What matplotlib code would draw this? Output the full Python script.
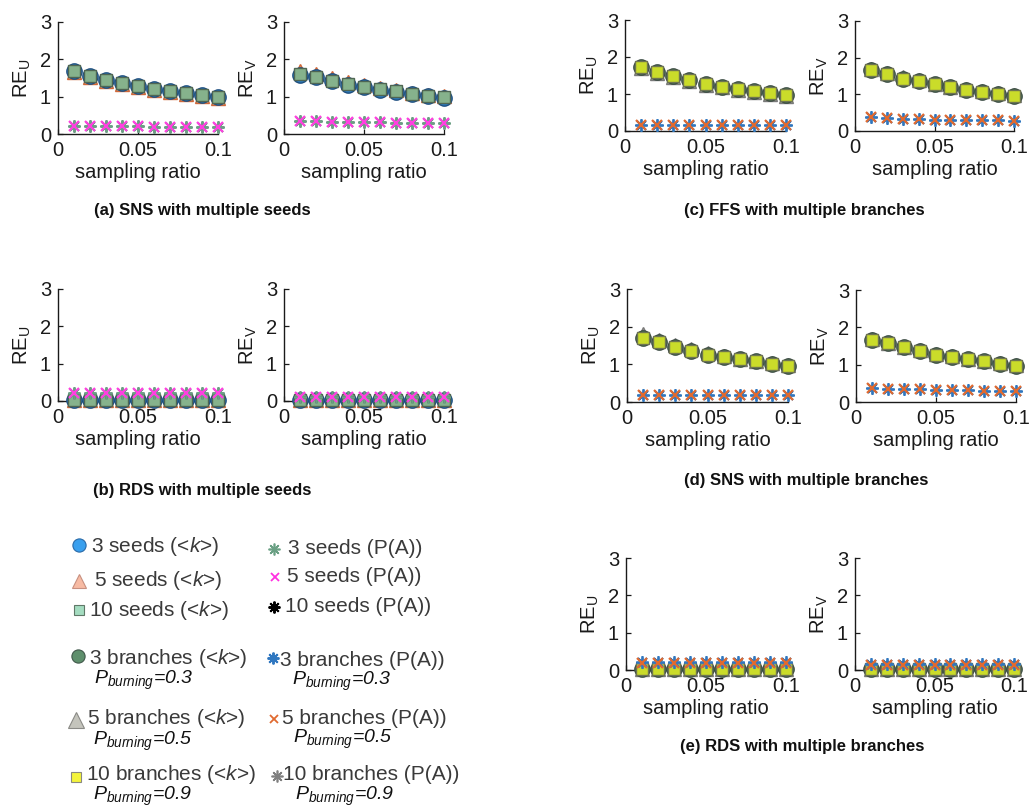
import matplotlib
matplotlib.use('Agg')
import matplotlib.pyplot as plt

plt.rcParams['font.family'] = ['Liberation Sans', 'DejaVu Sans']
plt.rcParams['mathtext.fontset'] = 'custom'
plt.rcParams['mathtext.rm'] = 'Liberation Sans'
plt.rcParams['mathtext.it'] = 'Liberation Sans:italic'
plt.rcParams['mathtext.bf'] = 'Liberation Sans:bold'

# ---------------- data ----------------
x_ratio = [0.01, 0.02, 0.03, 0.04, 0.05, 0.06, 0.07, 0.08, 0.09, 0.10]
x_ticks = [0, 0.05, 0.1]
x_ticklabels = ['0', '0.05', '0.1']
y_ticks = [0, 1, 2, 3]

# (a) SNS with multiple seeds
a_u_k3 = [1.70, 1.56, 1.45, 1.37, 1.29, 1.21, 1.15, 1.09, 1.04, 0.98]
a_u_k5 = [1.66, 1.53, 1.42, 1.35, 1.27, 1.19, 1.13, 1.07, 1.02, 0.96]
a_u_k10 = [1.69, 1.55, 1.45, 1.36, 1.29, 1.21, 1.15, 1.09, 1.04, 0.98]
a_u_p3 = [0.22, 0.21, 0.21, 0.21, 0.21, 0.20, 0.20, 0.20, 0.20, 0.20]
a_u_p5 = [0.22, 0.21, 0.21, 0.21, 0.21, 0.20, 0.20, 0.20, 0.20, 0.20]
a_u_p10 = [0.22, 0.21, 0.21, 0.21, 0.21, 0.20, 0.20, 0.20, 0.20, 0.20]
a_v_k3 = [1.58, 1.52, 1.42, 1.32, 1.26, 1.19, 1.13, 1.08, 1.02, 0.97]
a_v_k5 = [1.70, 1.60, 1.49, 1.39, 1.31, 1.24, 1.17, 1.11, 1.05, 1.01]
a_v_k10 = [1.62, 1.53, 1.43, 1.34, 1.27, 1.20, 1.14, 1.08, 1.03, 0.98]
a_v_p3 = [0.35, 0.34, 0.33, 0.32, 0.32, 0.31, 0.30, 0.30, 0.29, 0.29]
a_v_p5 = [0.35, 0.34, 0.33, 0.32, 0.32, 0.31, 0.30, 0.30, 0.29, 0.29]
a_v_p10 = [0.35, 0.34, 0.33, 0.32, 0.32, 0.31, 0.30, 0.30, 0.29, 0.29]

# (b) RDS with multiple seeds
b_u_k3 = [0.02, 0.02, 0.02, 0.02, 0.02, 0.02, 0.02, 0.02, 0.02, 0.02]
b_u_k5 = [0.03, 0.03, 0.03, 0.03, 0.03, 0.03, 0.03, 0.03, 0.03, 0.03]
b_u_k10 = [0.02, 0.02, 0.02, 0.02, 0.02, 0.02, 0.02, 0.02, 0.02, 0.02]
b_u_p3 = [0.22, 0.22, 0.22, 0.22, 0.22, 0.22, 0.22, 0.22, 0.22, 0.22]
b_u_p5 = [0.22, 0.22, 0.22, 0.22, 0.22, 0.22, 0.22, 0.22, 0.22, 0.22]
b_u_p10 = [0.22, 0.22, 0.22, 0.22, 0.22, 0.22, 0.22, 0.22, 0.22, 0.22]
b_v_k3 = [0.02, 0.02, 0.02, 0.02, 0.02, 0.02, 0.02, 0.02, 0.02, 0.02]
b_v_k5 = [0.03, 0.03, 0.03, 0.03, 0.03, 0.03, 0.03, 0.03, 0.03, 0.03]
b_v_k10 = [0.02, 0.02, 0.02, 0.02, 0.02, 0.02, 0.02, 0.02, 0.02, 0.02]
b_v_p3 = [0.11, 0.11, 0.11, 0.11, 0.11, 0.11, 0.11, 0.11, 0.11, 0.11]
b_v_p5 = [0.11, 0.11, 0.11, 0.11, 0.11, 0.11, 0.11, 0.11, 0.11, 0.11]
b_v_p10 = [0.11, 0.11, 0.11, 0.11, 0.11, 0.11, 0.11, 0.11, 0.11, 0.11]

# (c) FFS with multiple branches
c_u_k3 = [1.72, 1.59, 1.48, 1.37, 1.27, 1.20, 1.13, 1.08, 1.02, 0.96]
c_u_k5 = [1.69, 1.56, 1.45, 1.34, 1.25, 1.18, 1.11, 1.06, 1.00, 0.94]
c_u_k10 = [1.72, 1.59, 1.48, 1.37, 1.27, 1.20, 1.13, 1.08, 1.02, 0.96]
c_u_p3 = [0.16, 0.16, 0.16, 0.16, 0.16, 0.16, 0.16, 0.16, 0.16, 0.16]
c_u_p5 = [0.16, 0.16, 0.16, 0.16, 0.16, 0.16, 0.16, 0.16, 0.16, 0.16]
c_u_p10 = [0.16, 0.16, 0.16, 0.16, 0.16, 0.16, 0.16, 0.16, 0.16, 0.16]
c_v_k3 = [1.66, 1.55, 1.43, 1.36, 1.27, 1.19, 1.13, 1.07, 1.02, 0.96]
c_v_k5 = [1.70, 1.57, 1.46, 1.38, 1.29, 1.21, 1.15, 1.09, 1.04, 0.97]
c_v_k10 = [1.66, 1.55, 1.43, 1.36, 1.27, 1.19, 1.13, 1.07, 1.02, 0.96]
c_v_p3 = [0.37, 0.35, 0.33, 0.33, 0.31, 0.31, 0.30, 0.30, 0.29, 0.28]
c_v_p5 = [0.37, 0.35, 0.33, 0.33, 0.31, 0.31, 0.30, 0.30, 0.29, 0.28]
c_v_p10 = [0.37, 0.35, 0.33, 0.33, 0.31, 0.31, 0.30, 0.30, 0.29, 0.28]

# (d) SNS with multiple branches
d_u_k3 = [1.69, 1.60, 1.45, 1.36, 1.26, 1.20, 1.13, 1.08, 1.02, 0.95]
d_u_k5 = [1.80, 1.65, 1.52, 1.40, 1.30, 1.22, 1.15, 1.10, 1.04, 0.98]
d_u_k10 = [1.69, 1.60, 1.45, 1.36, 1.26, 1.20, 1.13, 1.08, 1.02, 0.95]
d_u_p3 = [0.19, 0.19, 0.19, 0.19, 0.19, 0.19, 0.19, 0.19, 0.19, 0.19]
d_u_p5 = [0.19, 0.19, 0.19, 0.19, 0.19, 0.19, 0.19, 0.19, 0.19, 0.19]
d_u_p10 = [0.19, 0.19, 0.19, 0.19, 0.19, 0.19, 0.19, 0.19, 0.19, 0.19]
d_v_k3 = [1.67, 1.58, 1.46, 1.37, 1.27, 1.21, 1.15, 1.09, 1.03, 0.96]
d_v_k5 = [1.69, 1.59, 1.47, 1.38, 1.29, 1.22, 1.16, 1.10, 1.05, 0.98]
d_v_k10 = [1.67, 1.58, 1.46, 1.37, 1.27, 1.21, 1.15, 1.09, 1.03, 0.96]
d_v_p3 = [0.38, 0.36, 0.34, 0.34, 0.32, 0.31, 0.31, 0.30, 0.29, 0.29]
d_v_p5 = [0.38, 0.36, 0.34, 0.34, 0.32, 0.31, 0.31, 0.30, 0.29, 0.29]
d_v_p10 = [0.38, 0.36, 0.34, 0.34, 0.32, 0.31, 0.31, 0.30, 0.29, 0.29]

# (e) RDS with multiple branches
e_u_k3 = [0.03, 0.03, 0.03, 0.03, 0.03, 0.03, 0.03, 0.03, 0.03, 0.03]
e_u_k5 = [0.04, 0.04, 0.04, 0.04, 0.04, 0.04, 0.04, 0.04, 0.04, 0.04]
e_u_k10 = [0.03, 0.03, 0.03, 0.03, 0.03, 0.03, 0.03, 0.03, 0.03, 0.03]
e_u_p3 = [0.22, 0.22, 0.22, 0.22, 0.22, 0.22, 0.22, 0.22, 0.22, 0.22]
e_u_p5 = [0.20, 0.20, 0.20, 0.20, 0.20, 0.20, 0.20, 0.20, 0.20, 0.20]
e_u_p10 = [0.20, 0.20, 0.20, 0.20, 0.20, 0.20, 0.20, 0.20, 0.20, 0.20]
e_v_k3 = [0.03, 0.03, 0.03, 0.03, 0.03, 0.03, 0.03, 0.03, 0.03, 0.03]
e_v_k5 = [0.04, 0.04, 0.04, 0.04, 0.04, 0.04, 0.04, 0.04, 0.04, 0.04]
e_v_k10 = [0.03, 0.03, 0.03, 0.03, 0.03, 0.03, 0.03, 0.03, 0.03, 0.03]
e_v_p3 = [0.15, 0.15, 0.15, 0.15, 0.15, 0.15, 0.15, 0.15, 0.15, 0.15]
e_v_p5 = [0.14, 0.14, 0.14, 0.14, 0.14, 0.14, 0.14, 0.14, 0.14, 0.14]
e_v_p10 = [0.14, 0.14, 0.14, 0.14, 0.14, 0.14, 0.14, 0.14, 0.14, 0.14]

panel_titles = ['(a) SNS with multiple seeds', '(b) RDS with multiple seeds',
                '(c) FFS with multiple branches', '(d) SNS with multiple branches',
                '(e) RDS with multiple branches']
x_label = 'sampling ratio'
y_label_u = r'RE$_{\mathrm{U}}$'
y_label_v = r'RE$_{\mathrm{V}}$'

legend_seed_k = ['3 seeds (<$k$>)', '5 seeds (<$k$>)', '10 seeds (<$k$>)']
legend_seed_p = ['3 seeds (P(A))', '5 seeds (P(A))', '10 seeds (P(A))']
legend_branch_k = ['3 branches (<$k$>)', '5 branches (<$k$>)', '10 branches (<$k$>)']
legend_branch_p = ['3 branches (P(A))', '5 branches (P(A))', '10 branches (P(A))']
legend_burning = [r'$P_{burning}$=0.3', r'$P_{burning}$=0.5', r'$P_{burning}$=0.9']

# ---------------- styles ----------------
AST = (8, 2, 0)
seed_k_styles = [  # order: 3, 5, 10
    dict(marker='o', ms=11, mfc='#2a7cc0', mec='#1d4e80', mew=1.0),
    dict(marker='^', ms=10, mfc='#e4a07c', mec='#d0683a', mew=1.0),
    dict(marker='s', ms=8, mfc='#86b28c', mec='#4f6653', mew=1.0),
]
seed_p_styles = [
    dict(marker=AST, ms=9, mec='#6aa084', mew=1.3),
    dict(marker='x', ms=6.5, mec='#ff40e0', mew=1.6),
    dict(marker=AST, ms=8, mec='#000000', mew=1.0),
]
branch_k_styles = [
    dict(marker='o', ms=11, mfc='#4f7f60', mec='#3a4a42', mew=1.0),
    dict(marker='^', ms=10, mfc='#a3a39b', mec='#7a7a7a', mew=1.0),
    dict(marker='s', ms=8, mfc='#cadc2a', mec='#6e7450', mew=1.0),
]
branch_p_styles = [
    dict(marker=AST, ms=9, mec='#2f77c0', mew=1.3),
    dict(marker='x', ms=6.5, mec='#e06a30', mew=1.6),
    dict(marker=AST, ms=8, mec='#888888', mew=1.0),
]

W, H = 1032, 807
fig = plt.figure(figsize=(W / 100, H / 100), dpi=100)


def box(x0, x1, yt, yb):
    return [x0 / W, 1 - yb / H, (x1 - x0) / W, (yb - yt) / H]


def draw_panel(rect, ylabel, k_series, p_series, k_styles, p_styles):
    ax = fig.add_axes(box(*rect))
    ax.set_xlim(0, 0.1)
    ax.set_ylim(0, 3)
    for s in ['top', 'right']:
        ax.spines[s].set_visible(False)
    for s in ['left', 'bottom']:
        ax.spines[s].set_color('#1a1a1a')
        ax.spines[s].set_linewidth(1.0)
    ax.set_xticks(x_ticks)
    ax.set_xticklabels(x_ticklabels)
    ax.set_yticks(y_ticks)
    ax.tick_params(direction='in', length=3.5, width=0.9, labelsize=14.5,
                   colors='#1a1a1a', pad=5)
    ax.tick_params(axis='x', pad=5)
    ax.set_xlabel(x_label, fontsize=14.5, labelpad=2, color='#1a1a1a')
    ax.set_ylabel(ylabel, fontsize=14.5, labelpad=5, color='#1a1a1a')
    # draw order: triangles, circles, squares
    for i in [1, 0, 2]:
        ax.plot(x_ratio, k_series[i], linestyle='none', clip_on=False,
                zorder=3, **k_styles[i])
    for i in [2, 0, 1]:
        ax.plot(x_ratio, p_series[i], linestyle='none', clip_on=False,
                zorder=4, **p_styles[i])
    return ax


panels = [
    ((58, 218, 22, 134), y_label_u, [a_u_k3, a_u_k5, a_u_k10], [a_u_p3, a_u_p5, a_u_p10], 's'),
    ((284, 444, 22, 134), y_label_v, [a_v_k3, a_v_k5, a_v_k10], [a_v_p3, a_v_p5, a_v_p10], 's'),
    ((58, 218, 289, 401), y_label_u, [b_u_k3, b_u_k5, b_u_k10], [b_u_p3, b_u_p5, b_u_p10], 's'),
    ((284, 444, 289, 401), y_label_v, [b_v_k3, b_v_k5, b_v_k10], [b_v_p3, b_v_p5, b_v_p10], 's'),
    ((625, 786, 20, 131), y_label_u, [c_u_k3, c_u_k5, c_u_k10], [c_u_p3, c_u_p5, c_u_p10], 'b'),
    ((855, 1014, 21, 131), y_label_v, [c_v_k3, c_v_k5, c_v_k10], [c_v_p3, c_v_p5, c_v_p10], 'b'),
    ((627, 788, 289, 402), y_label_u, [d_u_k3, d_u_k5, d_u_k10], [d_u_p3, d_u_p5, d_u_p10], 'b'),
    ((856, 1016, 290, 402), y_label_v, [d_v_k3, d_v_k5, d_v_k10], [d_v_p3, d_v_p5, d_v_p10], 'b'),
    ((626, 786, 558, 670), y_label_u, [e_u_k3, e_u_k5, e_u_k10], [e_u_p3, e_u_p5, e_u_p10], 'b'),
    ((855, 1014, 558, 670), y_label_v, [e_v_k3, e_v_k5, e_v_k10], [e_v_p3, e_v_p5, e_v_p10], 'b'),
]
for rect, yl, ks, ps, kind in panels:
    if kind == 's':
        draw_panel(rect, yl, ks, ps, seed_k_styles, seed_p_styles)
    else:
        draw_panel(rect, yl, ks, ps, branch_k_styles, branch_p_styles)

# ---------------- overlay for titles & legend ----------------
ov = fig.add_axes([0, 0, 1, 1], zorder=-1)
ov.set_xlim(0, W)
ov.set_ylim(H, 0)
ov.axis('off')

title_pos = [(202, 211), (202, 491), (804, 211), (806, 480), (802, 746)]
for t, (tx, ty) in zip(panel_titles, title_pos):
    ov.text(tx, ty, t, ha='center', va='center', fontsize=12,
            fontweight='bold', color='#111111')

TXT = '#3a3a3a'
LFS = 15
leg_seed_k_marks = [
    dict(marker='o', ms=9.5, mfc='#3aa0ee', mec='#2a6aa8', mew=0.8),
    dict(marker='^', ms=10, mfc='#f7bba4', mec='#c89080', mew=0.8),
    dict(marker='s', ms=6.5, mfc='#a4dcc0', mec='#607868', mew=0.8),
]
leg_seed_p_marks = [
    dict(marker=AST, ms=8.5, mec='#6aa084', mew=1.2),
    dict(marker='x', ms=6, mec='#ff30e0', mew=1.3),
    dict(marker=AST, ms=8.5, mec='#000000', mew=1.4),
]
leg_branch_k_marks = [
    dict(marker='o', ms=9.5, mfc='#5e8f6c', mec='#40584a', mew=0.8),
    dict(marker='^', ms=11, mfc='#c4c4bc', mec='#8a8a86', mew=0.8),
    dict(marker='s', ms=6.5, mfc='#f4f43c', mec='#8a8a80', mew=0.8),
]
leg_branch_p_marks = [
    dict(marker=AST, ms=8.5, mec='#2f77c0', mew=1.4),
    dict(marker='x', ms=6, mec='#e06a30', mew=1.3),
    dict(marker=AST, ms=8.5, mec='#808080', mew=1.2),
]

seed_k_pos = [((79, 545), (91, 546)), ((79, 581), (94, 581)), ((79, 610), (89, 611))]
seed_p_pos = [((274, 549), (288, 549)), ((275, 577), (287, 577)), ((274, 607), (285, 607))]
branch_k_pos = [((78, 656), (89, 658), (94, 680)), ((76, 720), (87, 719), (93, 741)),
                ((76, 777), (86, 775), (93, 796))]
branch_p_pos = [((273, 658), (280, 660), (292, 681)), ((274, 719), (282, 718), (293, 739)),
                ((277, 776), (283, 774), (295, 796))]

for lab, st, (mp, tp) in zip(legend_seed_k, leg_seed_k_marks, seed_k_pos):
    ov.plot([mp[0]], [mp[1]], linestyle='none', **st)
    ov.text(tp[0], tp[1], lab, ha='left', va='center', fontsize=LFS, color=TXT)
for lab, st, (mp, tp) in zip(legend_seed_p, leg_seed_p_marks, seed_p_pos):
    ov.plot([mp[0]], [mp[1]], linestyle='none', **st)
    ov.text(tp[0], tp[1], lab, ha='left', va='center', fontsize=LFS, color=TXT)
for lab, bl, st, (mp, tp, bp) in zip(legend_branch_k, legend_burning, leg_branch_k_marks, branch_k_pos):
    ov.plot([mp[0]], [mp[1]], linestyle='none', **st)
    ov.text(tp[0], tp[1], lab, ha='left', va='center', fontsize=LFS, color=TXT)
    ov.text(bp[0], bp[1], bl, ha='left', va='center', fontsize=14,
            style='italic', color='#111111')
for lab, bl, st, (mp, tp, bp) in zip(legend_branch_p, legend_burning, leg_branch_p_marks, branch_p_pos):
    ov.plot([mp[0]], [mp[1]], linestyle='none', **st)
    ov.text(tp[0], tp[1], lab, ha='left', va='center', fontsize=LFS, color=TXT)
    ov.text(bp[0], bp[1], bl, ha='left', va='center', fontsize=14,
            style='italic', color='#111111')

fig.savefig('out.png', dpi=100)
